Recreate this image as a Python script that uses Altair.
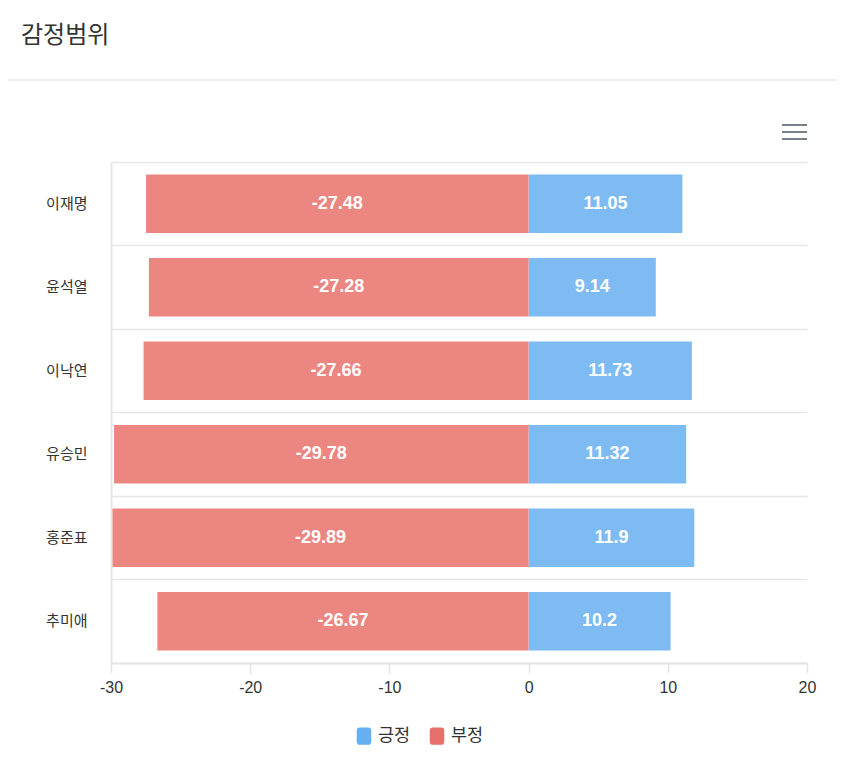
import altair as alt
import pandas as pd

names = ["이재명", "윤석열", "이낙연", "유승민", "홍준표", "추미애"]
positive = [11.05, 9.14, 11.73, 11.32, 11.9, 10.2]
negative = [-27.48, -27.28, -27.66, -29.78, -29.89, -26.67]
series = ["긍정", "부정"]
bar_colors = ["#7DBBF2", "#EB8681"]
legend_colors = ["#66AFF0", "#E8706A"]
x_ticks = [-30, -20, -10, 0, 10, 20]

rows = []
for n, p, q in zip(names, positive, negative):
    rows.append({"name": n, "series": series[0], "value": p, "label": f"{p:g}"})
    rows.append({"name": n, "series": series[1], "value": q, "label": f"{q:g}"})
df = pd.DataFrame(rows)

W, H = 696, 501
KR = "Noto Sans CJK KR"
NUM = "Liberation Sans"

x_scale = alt.Scale(domain=[-30, 20], nice=False, zero=False)
y_scale = alt.Scale(domain=names, paddingInner=0, paddingOuter=0)

rounded = ("M -0.84 -0.64 Q -0.84 -1 -0.48 -1 H 0.48 Q 0.84 -1 0.84 -0.64 "
           "V 0.64 Q 0.84 1 0.48 1 H -0.48 Q -0.84 1 -0.84 0.64 Z")

bars = alt.Chart(df).mark_bar(height={"band": 0.7}).encode(
    x=alt.X("value:Q", scale=x_scale, stack=None,
            axis=alt.Axis(values=x_ticks, title=None, grid=False, domainColor="#e3e3e3",
                          domainWidth=2, tickColor="#e3e3e3", tickSize=10, tickWidth=1.5,
                          labelFont=NUM, labelFontSize=16, labelColor="#333333",
                          labelPadding=6, labelFlush=False,
                          labelExpr="'' + datum.value")),
    y=alt.Y("name:N", scale=y_scale, sort=names,
            axis=alt.Axis(title=None, ticks=False, grid=True, gridColor="#e6e6e6",
                          gridWidth=1.5, bandPosition=0, domainColor="#e6e6e6",
                          domainWidth=2, labelFont=KR, labelFontSize=15,
                          labelColor="#333333", labelPadding=24)),
    color=alt.Color("series:N", scale=alt.Scale(domain=series, range=bar_colors), legend=None),
)

legend_layer = alt.Chart(df).mark_point(shape=rounded, filled=True, size=0, opacity=1).encode(
    x=alt.X("value:Q", scale=x_scale),
    y=alt.Y("name:N", scale=y_scale, sort=names),
    fill=alt.Fill("series:N", scale=alt.Scale(domain=series, range=legend_colors),
                  legend=alt.Legend(title=None, orient="none", direction="horizontal",
                                    legendX=244, legendY=565,
                                    symbolType=rounded, symbolOpacity=1,
                                    symbolSize=300, symbolStrokeWidth=0,
                                    labelFont=KR, labelFontSize=17.5, labelColor="#333333",
                                    labelOffset=5, columnPadding=17)),
)

labels = alt.Chart(df).transform_calculate(mid="datum.value / 2").mark_text(
    color="white", font=NUM, fontWeight="bold", fontSize=18, baseline="middle", align="center"
).encode(
    x=alt.X("mid:Q", scale=x_scale),
    y=alt.Y("name:N", scale=y_scale, sort=names),
    text="label:N",
)

one = pd.DataFrame({"a": [0]})
title = alt.Chart(one).mark_text(text="감정범위", font=KR, fontSize=24, color="#333333",
                                 align="left", baseline="middle").encode(
    x=alt.value(-90), y=alt.value(-126))
sep = alt.Chart(one).mark_rule(color="#eeeeee", strokeWidth=2).encode(
    x=alt.value(-103), x2=alt.value(725), y=alt.value(-82))
icon = [alt.Chart(one).mark_rule(color="#767f8c", strokeWidth=2).encode(
    x=alt.value(671), x2=alt.value(696), y=alt.value(yy)) for yy in (-37, -30, -23)]

chart = alt.layer(bars, legend_layer, labels, title, sep, *icon).resolve_scale(
    color="independent", fill="independent"
).properties(
    width=W, height=H,
    autosize=alt.AutoSizeParams(type="none"),
    padding={"left": 103, "top": 154, "right": 29, "bottom": 107},
).configure_view(stroke=None)

chart.save("out.html", embed_options={"renderer": "svg", "actions": False})
